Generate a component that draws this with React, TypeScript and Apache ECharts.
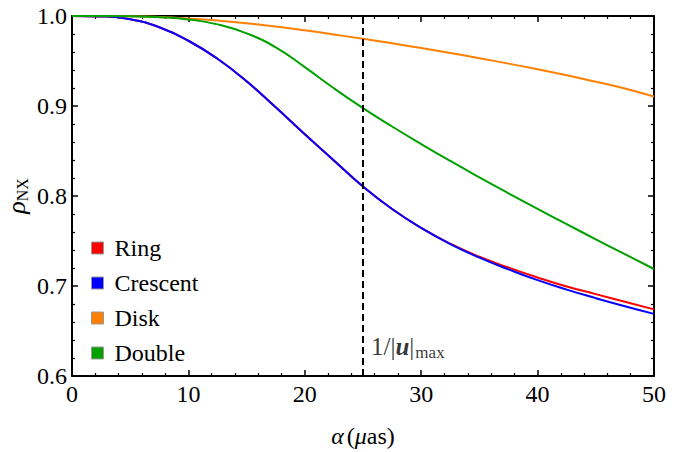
import React, { useEffect, useRef } from 'react';
import * as echarts from 'echarts';

// alpha (μas)
const alpha = [0, 2.5, 5, 7.5, 10, 12.5, 15, 17.5, 20, 22.5, 25, 27.5, 30, 32.5, 35, 37.5, 40, 42.5, 45, 47.5, 50];

const ring = [1.0, 0.9995, 0.9965, 0.9875, 0.9725, 0.9525, 0.9275, 0.8985, 0.8685, 0.8395, 0.8105, 0.7855, 0.7645, 0.747, 0.7325, 0.7205, 0.7095, 0.6995, 0.691, 0.6825, 0.674];
const crescent = [1.0, 0.9995, 0.9965, 0.9875, 0.9725, 0.9525, 0.9275, 0.8985, 0.8685, 0.8395, 0.8105, 0.7855, 0.7645, 0.7465, 0.7315, 0.7185, 0.7065, 0.696, 0.6865, 0.6775, 0.669];
const disk = [1.0, 1.0, 0.9998, 0.9989, 0.9972, 0.9949, 0.9919, 0.9883, 0.9841, 0.9795, 0.9746, 0.9696, 0.9644, 0.9589, 0.9531, 0.9471, 0.9408, 0.9341, 0.927, 0.9195, 0.9105];
const double = [1.0, 1.0, 0.9997, 0.9987, 0.9962, 0.9907, 0.9807, 0.9652, 0.9432, 0.9197, 0.8977, 0.8772, 0.8577, 0.8389, 0.8207, 0.803, 0.7857, 0.7687, 0.7519, 0.7353, 0.7189];

const seriesNames = ['Ring', 'Crescent', 'Disk', 'Double'];
const seriesValues = [ring, crescent, disk, double];
const seriesColors = ['#ff0000', '#0000ff', '#ff8000', '#00a000'];

const markerAlpha = 25;
const markerLabelY = 0.633;

const FONT = '"Liberation Serif", "Times New Roman", serif';

export default function App() {
  const ref = useRef<HTMLDivElement>(null);
  useEffect(() => {
    const chart = echarts.init(ref.current!, null, { renderer: 'svg' });

    const lineStyle = { color: '#000', width: 2 };
    const xCommon = {
      type: 'value',
      min: 0,
      max: 50,
      interval: 10,
      splitLine: { show: false },
      axisLine: { show: true, onZero: false, lineStyle },
      axisTick: { show: true, inside: true, length: 6, lineStyle: { color: '#000', width: 1.5 } },
      minorTick: { show: true, splitNumber: 5, length: 3, lineStyle: { color: '#000', width: 1.2 } },
    };
    const yCommon = {
      type: 'value',
      min: 0.6,
      max: 1.0,
      interval: 0.1,
      splitLine: { show: false },
      axisLine: { show: true, onZero: false, lineStyle },
      axisTick: { show: true, inside: true, length: 6, lineStyle: { color: '#000', width: 1.5 } },
      minorTick: { show: true, splitNumber: 5, length: 3, lineStyle: { color: '#000', width: 1.2 } },
    };

    const series: any[] = seriesNames.map((name, i) => ({
      name,
      type: 'line',
      smooth: 0.5,
      showSymbol: false,
      symbol: 'none',
      lineStyle: { color: seriesColors[i], width: 2 },
      itemStyle: { color: seriesColors[i] },
      data: alpha.map((a, j) => [a, seriesValues[i][j]]),
      z: 3,
    }));

    series.push({
      name: 'marker',
      type: 'scatter',
      symbolSize: 0,
      data: [[markerAlpha, markerLabelY]],
      silent: true,
      label: {
        show: true,
        position: 'right',
        distance: 8,
        formatter: '{n|1/|}{b|u}{n||}{s|max}',
        rich: {
          n: { fontFamily: FONT, fontSize: 25, color: '#000', lineHeight: 30, verticalAlign: 'middle' },
          b: { fontFamily: FONT, fontSize: 25, color: '#000', fontWeight: 'bold', fontStyle: 'italic', lineHeight: 30, verticalAlign: 'middle' },
          s: { fontFamily: FONT, fontSize: 17, color: '#000', lineHeight: 30, verticalAlign: 'bottom', padding: [10, 0, 0, 1] },
        },
      },
      markLine: {
        silent: true,
        symbol: 'none',
        label: { show: false },
        lineStyle: { color: '#000', type: [7, 4], width: 2 },
        data: [{ xAxis: markerAlpha }],
      },
      z: 2,
    });

    chart.setOption({
      animation: false,
      backgroundColor: '#fff',
      textStyle: { fontFamily: FONT },
      grid: { left: 72, right: 31, top: 16, bottom: 76, containLabel: false, outerBoundsMode: 'none' },
      legend: {
        data: seriesNames,
        orient: 'vertical',
        left: 91,
        top: 236,
        padding: 0,
        icon: 'rect',
        itemWidth: 12,
        itemHeight: 12,
        itemGap: 11,
        itemStyle: { borderColor: '#999', borderWidth: 1 },
        textStyle: { fontFamily: FONT, fontSize: 24, color: '#000', padding: [0, 0, 0, 6] },
      },
      xAxis: [
        {
          ...xCommon,
          position: 'bottom',
          axisLabel: { show: true, fontFamily: FONT, fontSize: 24, color: '#000', margin: 6 },
          name: '{i|α} {n|(}{i|μ}{n|as)}',
          nameLocation: 'middle',
          nameGap: 48,
          nameMoveOverlap: false,
          nameTextStyle: {
            fontFamily: FONT,
            rich: {
              i: { fontFamily: FONT, fontSize: 24, fontStyle: 'italic', color: '#000' },
              n: { fontFamily: FONT, fontSize: 24, color: '#000' },
            },
          },
        },
        { ...xCommon, position: 'top', axisLabel: { show: false } },
      ],
      yAxis: [
        {
          ...yCommon,
          position: 'left',
          axisLabel: {
            show: true,
            fontFamily: FONT,
            fontSize: 24,
            color: '#000',
            margin: 5,
            formatter: (v: number) => v.toFixed(1),
          },
          name: '{r|ρ}{s|NX}',
          nameLocation: 'middle',
          nameRotate: 90,
          nameGap: 42,
          nameMoveOverlap: false,
          nameTextStyle: {
            fontFamily: FONT,
            rich: {
              r: { fontFamily: FONT, fontSize: 26, fontStyle: 'italic', color: '#000', lineHeight: 28, verticalAlign: 'middle' },
              s: { fontFamily: FONT, fontSize: 16, color: '#000', lineHeight: 28, verticalAlign: 'bottom', padding: [10, 0, 0, 0] },
            },
          },
        },
        { ...yCommon, position: 'right', axisLabel: { show: false } },
      ],
      series,
    });

    return () => chart.dispose();
  }, []);

  return <div ref={ref} style={{ position: 'fixed', left: 0, top: 0, width: 685, height: 452 }} />;
}
